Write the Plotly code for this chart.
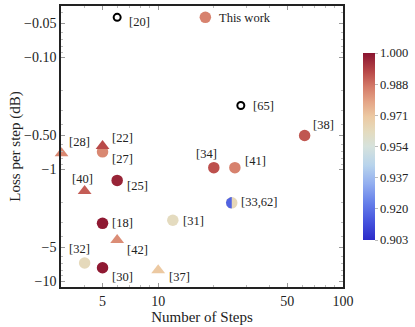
import numpy as np
import plotly.graph_objects as go
from plotly.colors import sample_colorscale

# filled circles
circ_labels = ["This work", "[38]", "[27]", "[34]", "[41]", "[25]", "[18]", "[31]", "[32]", "[30]"]
circ_steps = [18, 62, 5, 20, 26, 6, 5, 12, 4, 5]
circ_loss = [-0.044, -0.50, -0.70, -0.97, -0.97, -1.26, -3.05, -2.86, -6.9, -7.6]
circ_fid = [0.981, 0.988, 0.980, 0.989, 0.981, 0.997, 0.999, 0.959, 0.960, 0.999]

# triangles
tri_labels = ["[28]", "[22]", "[40]", "[42]", "[37]"]
tri_steps = [3, 5, 4, 6, 10]
tri_loss = [-0.72, -0.62, -1.57, -4.3, -8.0]
tri_fid = [0.980, 0.990, 0.987, 0.979, 0.967]

# open circles (no fidelity given)
open_labels = ["[20]", "[65]"]
open_steps = [6, 28]
open_loss = [-0.044, -0.27]

# half / half circle
split_label = "[33,62]"
split_steps = 25
split_loss = -2.0
split_fid = [0.916, 0.961]

x_ticks = [5, 10, 50, 100]
y_ticks = [-0.05, -0.10, -0.50, -1, -5, -10]
y_ticktext = ["\u22120.05", "\u22120.10", "\u22120.50", "\u22121", "\u22125", "\u221210"]
cbar_ticktext = ["0.903", "0.920", "0.937", "0.954", "0.971", "0.988", "1.000"]
cmin, cmax = 0.903, 1.000

cs = [
    [0.0, "#2b2bc9"], [0.1, "#4654de"], [0.2, "#6680ea"], [0.3, "#92aef0"],
    [0.4, "#b8d4ec"], [0.5, "#d6e2dc"], [0.58, "#e4dbbe"], [0.66, "#ecc9a2"],
    [0.74, "#e4a486"], [0.82, "#d47a68"], [0.9, "#b84848"], [1.0, "#8a1430"],
]

FONT = "Liberation Serif, Times New Roman, serif"
W, H = 415, 327
M = dict(l=61, r=72, t=6, b=40, autoexpand=False)
xr = [np.log10(2.98), 2.0]
yr = [1.053, -1.458]

# label placement: (xanchor, xshift, yshift)
label_pos = {
    "This work": ("left", 12, -1), "[38]": ("left", 6, 10), "[27]": ("left", 7, -7),
    "[34]": ("center", -7, 14), "[41]": ("left", 8, 7), "[25]": ("left", 8, -6),
    "[18]": ("left", 7, 0), "[31]": ("left", 8, -1), "[32]": ("center", -5, 14),
    "[30]": ("left", 7, -9), "[28]": ("left", 5, 11), "[22]": ("left", 7, 8),
    "[40]": ("center", -2, 12), "[42]": ("left", 8, -10), "[37]": ("left", 9, -7),
    "[20]": ("left", 10, -5), "[65]": ("left", 10, 0), "[33,62]": ("left", 7, 1),
}

fig = go.Figure()

cbar = dict(
    thickness=12, len=187, lenmode="pixels", x=1.07, xanchor="left", xpad=0,
    y=0.5, yanchor="middle", ypad=0, outlinewidth=0,
    tickvals=list(np.linspace(cmin, cmax, len(cbar_ticktext))), ticktext=cbar_ticktext,
    ticks="outside", ticklen=3, tickcolor="#bbbbbb",
    tickfont=dict(family=FONT, size=12.5, color="#222"),
)

# split circle: right half colour as full disc, blue half on top
fig.add_trace(go.Scatter(
    x=[split_steps], y=[abs(split_loss)], mode="markers",
    marker=dict(size=11.5, color=[split_fid[1]], colorscale=cs, cmin=cmin, cmax=cmax,
                line=dict(width=0)),
    showlegend=False, hoverinfo="skip"))

plot_w = W - M["l"] - M["r"]
plot_h = H - M["t"] - M["b"]
xdec = plot_w / (xr[1] - xr[0])
ydec = plot_h / abs(yr[0] - yr[1])
r = 5.75
t = np.linspace(np.pi / 2, 3 * np.pi / 2, 40)
hx = 10 ** (np.log10(split_steps) + r * np.cos(t) / xdec)
hy = 10 ** (np.log10(abs(split_loss)) + r * np.sin(t) / ydec)
blue = sample_colorscale(cs, [(split_fid[0] - cmin) / (cmax - cmin)])[0]
fig.add_trace(go.Scatter(
    x=hx, y=hy, mode="lines", fill="toself", fillcolor=blue,
    line=dict(width=0, color=blue), showlegend=False, hoverinfo="skip"))

fig.add_trace(go.Scatter(
    x=circ_steps, y=[abs(v) for v in circ_loss], mode="markers",
    marker=dict(size=11.5, color=circ_fid, colorscale=cs, cmin=cmin, cmax=cmax,
                showscale=True, colorbar=cbar, line=dict(width=0)),
    showlegend=False, hoverinfo="skip"))

fig.add_trace(go.Scatter(
    x=tri_steps, y=[abs(v) for v in tri_loss], mode="markers",
    marker=dict(size=12, symbol="triangle-up", color=tri_fid, colorscale=cs,
                cmin=cmin, cmax=cmax, line=dict(width=0)),
    showlegend=False, hoverinfo="skip", cliponaxis=False))

fig.add_trace(go.Scatter(
    x=open_steps, y=[abs(v) for v in open_loss], mode="markers",
    marker=dict(size=7, color="white", line=dict(width=2, color="black")),
    showlegend=False, hoverinfo="skip"))

all_pts = (list(zip(circ_labels, circ_steps, circ_loss))
           + list(zip(tri_labels, tri_steps, tri_loss))
           + list(zip(open_labels, open_steps, open_loss))
           + [(split_label, split_steps, split_loss)])
for lab, sx, ly in all_pts:
    anc, dx, dy = label_pos[lab]
    fig.add_annotation(
        x=np.log10(sx), y=np.log10(abs(ly)), xref="x", yref="y", text=lab,
        showarrow=False, xanchor=anc, yanchor="middle", xshift=dx, yshift=dy,
        font=dict(family=FONT, size=12.5, color="#222"))

axis_common = dict(
    type="log", showgrid=False, zeroline=False, showline=True, linecolor="#222",
    linewidth=1.5, mirror="allticks", ticks="inside", ticklen=4, tickcolor="#999",
    tickfont=dict(family=FONT, size=14, color="#222"), automargin=False,
)

fig.update_xaxes(
    **axis_common, range=xr, tickvals=x_ticks, ticktext=[str(v) for v in x_ticks],
    minor=dict(ticks="inside", ticklen=2, tickcolor="#bbb",
               tickvals=[4, 6, 7, 8, 9, 20, 30, 40, 60, 70, 80, 90]),
    title=dict(text="Number of Steps", font=dict(family=FONT, size=15, color="#222"),
               standoff=2))
fig.update_yaxes(
    **axis_common, range=yr, tickvals=[abs(v) for v in y_ticks], ticktext=y_ticktext,
    minor=dict(ticks="inside", ticklen=2, tickcolor="#bbb",
               tickvals=[0.04, 0.06, 0.07, 0.08, 0.09, 0.2, 0.3, 0.4, 0.6, 0.7, 0.8, 0.9,
                         2, 3, 4, 6, 7, 8, 9]),
    title=dict(text="Loss per step (dB)", font=dict(family=FONT, size=15, color="#222"),
               standoff=0))

fig.update_layout(
    width=W, height=H, margin=M, plot_bgcolor="white", paper_bgcolor="white",
    font=dict(family=FONT, color="#222"),
)

# page body has a default 8px margin; drop it so the figure sits at 0,0
fig.write_html("out.html", config={"displayModeBar": False},
               post_script="document.body.style.margin='0';")
